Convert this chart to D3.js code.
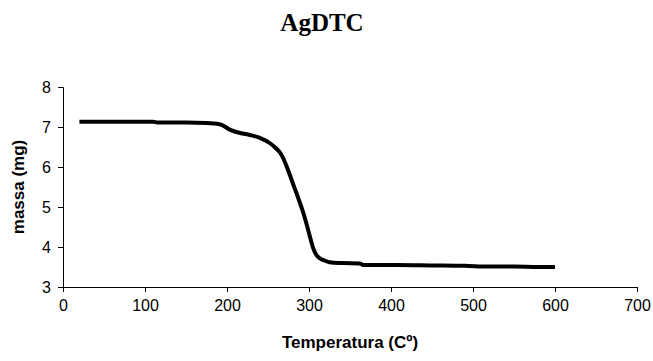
<!DOCTYPE html>
<html><head><meta charset="utf-8">
<script src="https://cdn.jsdelivr.net/npm/d3@7/dist/d3.min.js"></script>
<style>body{margin:0;background:#fff}svg{display:block}</style>
</head><body>
<script>
const title = "AgDTC";
const xLabel = "Temperatura (Cº)";
const yLabel = "massa (mg)";
const xTicks = [0,100,200,300,400,500,600,700];
const yTicks = [3,4,5,6,7,8];
const temperature = [20,50,80,110,115,150,175,191,204,216,228,240,252,258,265,269,273,277,281,285,289,292,295,298,301,305,309,313,318,325,340,362,366,380,407,450,490,520,550,580,600];
const mass = [7.13,7.13,7.13,7.13,7.11,7.11,7.10,7.07,6.93,6.85,6.80,6.73,6.60,6.50,6.35,6.20,6.00,5.78,5.55,5.33,5.10,4.92,4.72,4.50,4.27,3.98,3.80,3.72,3.67,3.62,3.60,3.59,3.55,3.55,3.55,3.54,3.53,3.51,3.51,3.50,3.50];

const W=653,H=361;
const svg=d3.select("body").append("svg").attr("width",W).attr("height",H);
const x=d3.scaleLinear().domain([0,700]).range([63,637]);
const y=d3.scaleLinear().domain([3,8]).range([287,87]);

svg.append("text").attr("x",322).attr("y",31).attr("text-anchor","middle")
  .attr("font-family","'Liberation Serif','Times New Roman',serif").attr("font-weight","bold")
  .attr("font-size",25).text(title);

const xa=svg.append("g").attr("transform","translate(0,287)")
  .call(d3.axisBottom(x).tickValues(xTicks).tickSize(5).tickPadding(8).tickFormat(d3.format("d")));
const ya=svg.append("g").attr("transform","translate(63,0)")
  .call(d3.axisLeft(y).tickValues(yTicks).tickSize(5).tickPadding(7).tickFormat(d3.format("d")));
[xa,ya].forEach(g=>{
  g.selectAll("path,line").attr("stroke","#000").attr("stroke-width",1);
  g.selectAll("text").attr("font-family","'Liberation Sans',Arial,sans-serif").attr("font-size",16).attr("fill","#000");
});

svg.append("path").datum(temperature.map((t,i)=>[t,mass[i]]))
  .attr("fill","none").attr("stroke","#000").attr("stroke-width",4)
  .attr("stroke-linejoin","round")
  .attr("d",d3.line().x(d=>x(d[0])).y(d=>y(d[1])).curve(d3.curveMonotoneX));

svg.append("text").attr("x",350).attr("y",348).attr("text-anchor","middle")
  .attr("font-family","'Liberation Sans',Arial,sans-serif").attr("font-weight","bold")
  .attr("font-size",17).text(xLabel);
svg.append("text").attr("transform","translate(24,187) rotate(-90)").attr("text-anchor","middle")
  .attr("font-family","'Liberation Sans',Arial,sans-serif").attr("font-weight","bold")
  .attr("font-size",17).text(yLabel);
</script>
</body></html>
